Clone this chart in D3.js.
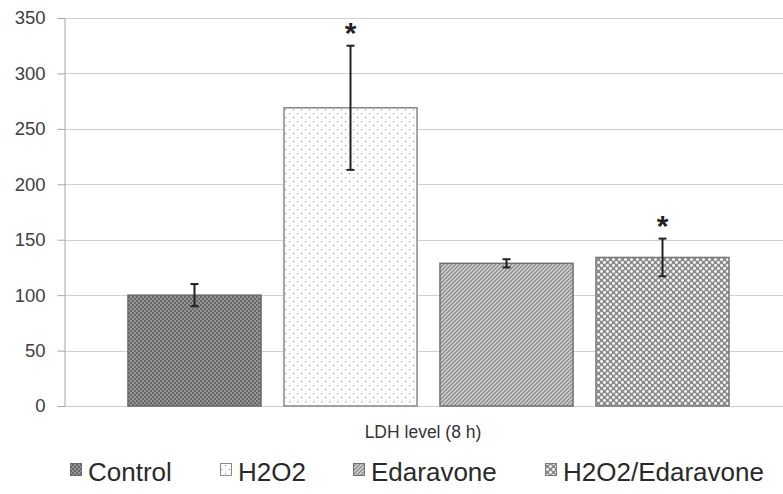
<!DOCTYPE html>
<html><head><meta charset="utf-8">
<script src="https://cdn.jsdelivr.net/npm/d3@7"></script>
<style>body{margin:0;background:#fff}svg{display:block}</style>
</head><body>
<script>
const categories = ["Control", "H2O2", "Edaravone", "H2O2/Edaravone"];
const values = [100, 269, 128.7, 134];
const errors = [10, 56, 3.7, 17];
const significant = [false, true, false, true];
const yTicks = [0, 50, 100, 150, 200, 250, 300, 350];
const axisTitle = "LDH level (8 h)";

(function(){
const W = 783, H = 494;
const svg = d3.select("body").append("svg").attr("width", W).attr("height", H);
const defs = svg.append("defs");

// patterns
const p0 = defs.append("pattern").attr("id","pat0").attr("patternUnits","userSpaceOnUse").attr("width",4).attr("height",4);
p0.append("rect").attr("width",4).attr("height",4).attr("fill","#969696");
p0.append("rect").attr("width",2).attr("height",2).attr("fill","#686868");
p0.append("rect").attr("x",2).attr("y",2).attr("width",2).attr("height",2).attr("fill","#686868");

const p1 = defs.append("pattern").attr("id","pat1").attr("patternUnits","userSpaceOnUse").attr("width",8).attr("height",8);
p1.append("rect").attr("width",8).attr("height",8).attr("fill","#fff");
p1.append("rect").attr("x",1).attr("y",1).attr("width",1.2).attr("height",1.2).attr("fill","#9a9a9a");
p1.append("rect").attr("x",5).attr("y",5).attr("width",1.2).attr("height",1.2).attr("fill","#9a9a9a");

const p2 = defs.append("pattern").attr("id","pat2").attr("patternUnits","userSpaceOnUse").attr("width",4).attr("height",4);
p2.append("rect").attr("width",4).attr("height",4).attr("fill","#d4d4d4");
p2.append("path").attr("d","M-1,1 L1,-1 M0,4 L4,0 M3,5 L5,3").attr("stroke","#8a8a8a").attr("stroke-width",1.3);

const p3 = defs.append("pattern").attr("id","pat3").attr("patternUnits","userSpaceOnUse").attr("width",6).attr("height",6);
p3.append("rect").attr("width",6).attr("height",6).attr("fill","#8c8c8c");
p3.append("circle").attr("cx",1.5).attr("cy",1.5).attr("r",1.4).attr("fill","#fff");
p3.append("circle").attr("cx",4.5).attr("cy",4.5).attr("r",1.4).attr("fill","#fff");

const fills = ["url(#pat0)","url(#pat1)","url(#pat2)","url(#pat3)"];
const strokes = ["#6a6a6a","#8a8a8a","#707070","#7a7a7a"];

const mLeft = 64, mRight = 783, mTop = 18, mBottom = 406;
const y = d3.scaleLinear().domain([0,350]).range([mBottom, mTop]);
const x = d3.scaleBand().domain(categories).range([116.5, 740.5]).paddingInner(0.147).paddingOuter(0.0735);

// gridlines
svg.append("g").selectAll("line").data(yTicks).join("line")
  .attr("x1", mLeft).attr("x2", mRight)
  .attr("y1", d=>Math.round(y(d))+0.5).attr("y2", d=>Math.round(y(d))+0.5)
  .attr("stroke","#d0d0d0").attr("stroke-width",1);

// y axis
const yAxis = svg.append("g").attr("transform",`translate(${mLeft+0.5},0)`)
  .call(d3.axisLeft(y).tickValues(yTicks).tickSize(7).tickPadding(12).tickFormat(d3.format("d")));
yAxis.select(".domain").attr("stroke","#a6a6a6");
yAxis.selectAll(".tick line").attr("stroke","#a6a6a6");
yAxis.selectAll(".tick text").attr("fill","#404040").attr("font-family","Liberation Sans, Arial, sans-serif").attr("font-size",18.5);

// bars
svg.append("g").selectAll("rect").data(categories).join("rect")
  .attr("x", d=>x(d)).attr("width", x.bandwidth())
  .attr("y", (d,i)=>y(values[i])).attr("height",(d,i)=>y(0)-y(values[i]))
  .attr("fill",(d,i)=>fills[i]).attr("stroke",(d,i)=>strokes[i]).attr("stroke-width",1.5);

// error bars
const eb = svg.append("g").attr("stroke","#222").attr("stroke-width",2);
categories.forEach((c,i)=>{
  const cx = x(c)+x.bandwidth()/2;
  const y1 = y(values[i]+errors[i]), y2 = y(values[i]-errors[i]);
  eb.append("line").attr("x1",cx).attr("x2",cx).attr("y1",y1).attr("y2",y2);
  eb.append("line").attr("x1",cx-4).attr("x2",cx+4).attr("y1",y1).attr("y2",y1);
  eb.append("line").attr("x1",cx-4).attr("x2",cx+4).attr("y1",y2).attr("y2",y2);
  if (significant[i]) {
    svg.append("text").attr("x",cx).attr("y",y1-3).attr("text-anchor","middle")
      .attr("font-family","Liberation Sans, Arial, sans-serif").attr("font-size",30).attr("font-weight","bold")
      .attr("fill","#222").attr("dy","0.55em").attr("transform",`translate(0,-16)`).text("*");
  }
});

// x axis title
svg.append("text").attr("x",423).attr("y",438).attr("text-anchor","middle")
  .attr("font-family","Liberation Sans, Arial, sans-serif").attr("font-size",17.5).attr("fill","#333").text(axisTitle);

// legend
const legX = [70, 220, 353, 545];
const leg = svg.append("g");
categories.forEach((c,i)=>{
  leg.append("rect").attr("x",legX[i]+0.5).attr("y",463.5).attr("width",11).attr("height",12)
    .attr("fill",fills[i]).attr("stroke",strokes[i]).attr("stroke-width",1);
  leg.append("text").attr("x",legX[i]+18).attr("y",481)
    .attr("font-family","Liberation Sans, Arial, sans-serif").attr("font-size",26).attr("fill","#2a2a2a").text(c);
});
})();
</script>
</body></html>
